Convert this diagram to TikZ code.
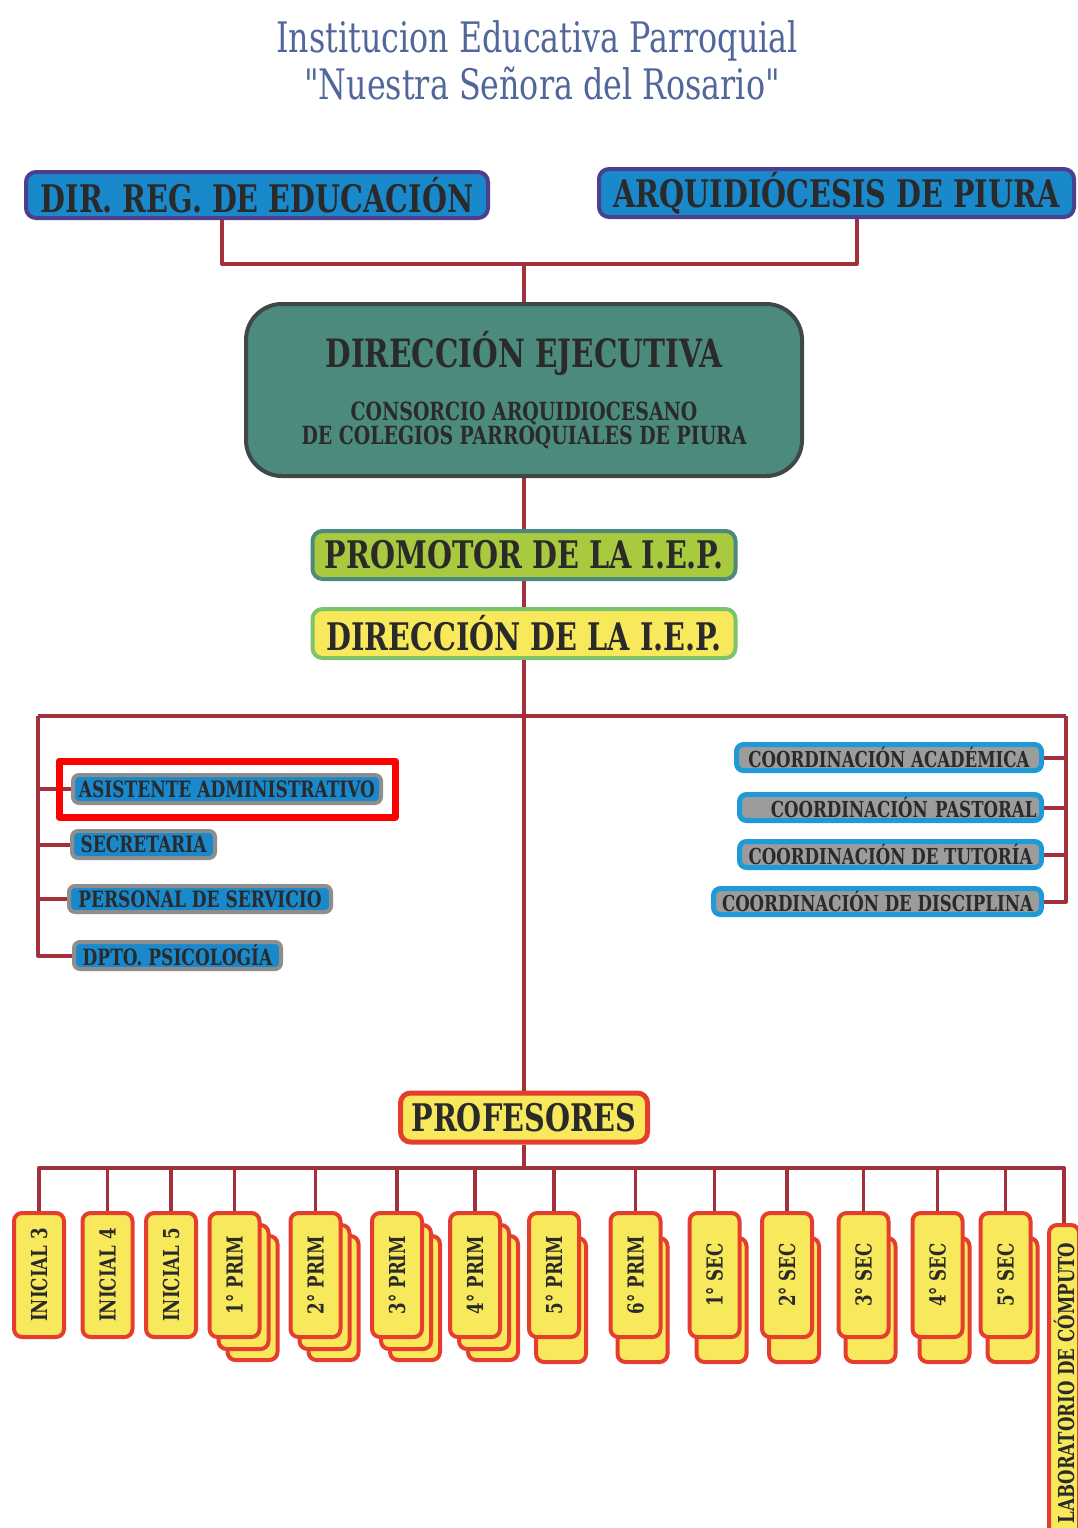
\documentclass[tikz,border=0pt]{standalone}
\usepackage{fontspec}
\setmainfont{DejaVu Serif Condensed}[FakeStretch=0.84]
\newfontfamily\titlefont{DejaVu Serif Condensed}[FakeStretch=0.84,Ligatures=TeXOff]
\usepackage{tikz}
\usetikzlibrary{calc,fit}

\definecolor{wirered}{HTML}{A3313B}
\definecolor{topblue}{HTML}{1A89CC}
\definecolor{toprim}{HTML}{4B3F8E}
\definecolor{execfill}{HTML}{4C8A7D}
\definecolor{execrim}{HTML}{3E4848}
\definecolor{promfill}{HTML}{A9C93E}
\definecolor{promrim}{HTML}{4B8A7C}
\definecolor{dirfill}{HTML}{F7E95B}
\definecolor{dirrim}{HTML}{7CC36B}
\definecolor{cardrim}{HTML}{E63E2E}
\definecolor{staffrim}{HTML}{8E8E8E}
\definecolor{coordfill}{HTML}{9C9C9C}
\definecolor{coordrim}{HTML}{1E9AD6}
\definecolor{ink}{HTML}{2A2A2A}
\definecolor{titleblue}{HTML}{51669A}
\definecolor{hilite}{HTML}{FF0000}

\begin{document}
\begin{tikzpicture}[x=1pt,y=-1pt,line join=round]
\tikzstyle{every node}=[text=ink,inner sep=0pt]
\tikzstyle{wire}=[draw=wirered,line width=4pt]
\tikzstyle{drop}=[draw=wirered,line width=3.5pt]
\tikzstyle{bigbox}=[line width=4pt,rounded corners=10pt,font=\bfseries\fontsize{38}{40}\selectfont]
\tikzstyle{topbox}=[bigbox,draw=toprim,fill=topblue]
\tikzstyle{staff}=[draw=staffrim,fill=topblue,line width=4pt,rounded corners=6pt,
                   font=\bfseries\fontsize{22.5}{22.5}\selectfont]
\tikzstyle{coord}=[draw=coordrim,fill=coordfill,line width=5pt,rounded corners=7pt,
                   minimum height=26pt,font=\bfseries\fontsize{22}{22}\selectfont]
\tikzstyle{card}=[draw=cardrim,fill=dirfill,line width=4pt,rounded corners=8pt,rotate=90,
                  minimum width=124pt,minimum height=50pt,font=\bfseries\fontsize{22}{22}\selectfont]
\useasboundingbox (0,0) rectangle (1077,1528);
\fill[white] (0,0) rectangle (1077,1528);

% heading
\node[text=titleblue,align=center,font=\titlefont\fontsize{42}{47}\selectfont] (TITLE) at (537,60)
  {Institucion Educativa Parroquial\\ \ "Nuestra Señora del Rosario"};

% upper chain
\node[topbox,minimum width=462pt,minimum height=46pt] (DRE) at (257,195) {DIR. REG. DE EDUCACIÓN};
\node[topbox,minimum width=475pt,minimum height=48pt] (ARQ) at (836.5,193) {ARQUIDIÓCESIS DE PIURA};
\node[bigbox,draw=execrim,fill=execfill,rounded corners=36pt,minimum width=556pt,minimum height=172pt,
      align=center,font=\bfseries\fontsize{25}{24}\selectfont] (DEJ) at (524,390)
  {{\fontsize{39}{40}\selectfont DIRECCIÓN EJECUTIVA}\\[26pt]
   CONSORCIO ARQUIDIOCESANO\\ DE COLEGIOS PARROQUIALES DE PIURA};
\node[bigbox,draw=promrim,fill=promfill,minimum width=423pt,minimum height=48pt] (PROM) at (524,555)
  {PROMOTOR DE LA I.E.P.};
\node[bigbox,draw=dirrim,fill=dirfill,minimum width=423pt,minimum height=49pt] (DIR) at (524,633.5)
  {DIRECCIÓN DE LA I.E.P.};

\coordinate (TOPJ) at (524,264);
\draw[wire] ($(DRE.south)+(-35,0)$) |- (TOPJ) -| ($(ARQ.south)+(20,0)$);
\draw[wire] (TOPJ) -- (DEJ.north);
\draw[wire] (DEJ.south) -- (PROM.north);
\draw[wire] (PROM.south) -- (DIR.north);

% staff and coordinations
\node[staff,minimum width=308pt,minimum height=28pt] (ASIS) at (227,789) {ASISTENTE ADMINISTRATIVO};
\node[staff,minimum width=143pt,minimum height=27pt] (SEC) at (143.5,844.5) {SECRETARIA};
\node[staff,minimum width=262pt,minimum height=26pt] (PERS) at (200,899) {PERSONAL DE SERVICIO};
\node[staff,minimum width=207pt,minimum height=27pt] (PSI) at (177.5,955.5) {DPTO. PSICOLOGÍA};

\node[coord,minimum width=305pt] (CACA) at (889,757.5) {COORDINACIÓN ACADÉMICA};
\node[coord,minimum width=302pt,text width=292pt,align=right] (CPAS) at (890.5,807.5) {COORDINACIÓN PASTORAL};
\node[coord,minimum width=302pt] (CTUT) at (890.5,854.5) {COORDINACIÓN DE TUTORÍA};
\node[coord,minimum width=328pt] (CDIS) at (877.5,901.5) {COORDINACIÓN DE DISCIPLINA};

\node[bigbox,draw=cardrim,fill=dirfill,line width=5pt,minimum width=247pt,minimum height=49pt] (PROF)
  at (524,1117.5) {PROFESORES};

\coordinate (LB) at (38,716);
\coordinate (RB) at (1066,716);
\draw[wire] (DIR.south) -- (PROF.north);
\draw[wire] (LB) -- (RB);
\draw[wire] (LB) |- (PSI.west);
\draw[wire] (RB) |- (CDIS.east);
\foreach \n in {ASIS,SEC,PERS} \draw[wire] (\n.west) -- (\n.west -| LB);
\foreach \n in {CACA,CPAS,CTUT} \draw[wire] (\n.east) -- (\n.east -| RB);
\node[draw=hilite,line width=7pt,fit=(ASIS),inner sep=12pt] (MARK) {};

% grades
\coordinate (BUS) at (524,1168);
\node[card,minimum width=316pt,minimum height=30pt] (LAB) at (1064,1383) {LABORATORIO DE CÓMPUTO};
\foreach \name/\xx/\txt/\stk in {I3/39/INICIAL 3/1,I4/107.5/INICIAL 4/1,I5/171/INICIAL 5/1,
    P1/234.5/1° PRIM/3,P2/315.5/2° PRIM/3,P3/397/3° PRIM/3,P4/475/4° PRIM/3,
    P5/554/5° PRIM/2,P6/635.5/6° PRIM/2,S1/714.5/1° SEC/2,S2/787/2° SEC/2,
    S3/863.5/3° SEC/2,S4/937.5/4° SEC/2,S5/1005.5/5° SEC/2}{
  \ifnum\stk=3
    \node[card] (\name-c) at (\xx+18,1298) {};
    \node[card] (\name-b) at (\xx+9,1287) {};
  \fi
  \ifnum\stk=2
    \node[card] (\name-b) at (\xx+7,1300) {};
  \fi
  \node[card] (\name) at (\xx,1275) {\txt};
  \draw[drop] (\name.east) -- (\name.east |- BUS);
}
\draw[wire] (PROF.south) -- (BUS);
\draw[wire] (I3.east) |- (BUS) -| (LAB.east);
\end{tikzpicture}
\end{document}
